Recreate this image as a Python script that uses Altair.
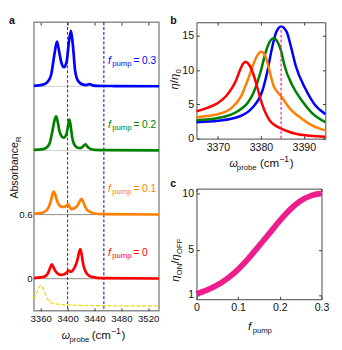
import altair as alt
import pandas as pd

FONT = "Liberation Sans, Arial, sans-serif"

# ---------------- shared series info ----------------
F_LABELS = ["0", "0.1", "0.2", "0.3"]
F_COLORS = ["#FF0000", "#FF8000", "#008000", "#0000FF"]
OFFSETS = [0.0, 0.6, 1.2, 1.8]

# ---------------- panel a : spectra (relative to their baseline) ----------------
A_RED_X = [3350, 3360, 3366.1, 3372.3, 3374.5, 3376.6, 3378.8, 3381.9, 3386, 3390, 3394, 3397.1, 3399.5,
           3401.9, 3404, 3406.6, 3410, 3412.9, 3415.5, 3417.3, 3418.9, 3420.5, 3423.6, 3428.3, 3433, 3437.9, 3450, 3536]
A_RED_Y = [0.006, 0.012, 0.02, 0.072, 0.11, 0.135, 0.11, 0.072, 0.045, 0.036, 0.04, 0.05, 0.065,
           0.075, 0.066, 0.07, 0.1, 0.14, 0.2, 0.25, 0.276, 0.24, 0.126, 0.05, 0.025, 0.015, 0.006, 0.002]

A_ORA_X = [3350, 3363.7, 3370.9, 3375.7, 3377.5, 3379.4, 3381.5, 3383.7, 3387.6, 3392.3, 3396, 3398.5, 3400.9,
           3403.3, 3405.7, 3410, 3413.5, 3416.1, 3418.5, 3420.9, 3423.3, 3425.7, 3429, 3432.9, 3440, 3455, 3536]
A_ORA_Y = [0.008, 0.02, 0.058, 0.14, 0.19, 0.216, 0.19, 0.14, 0.087, 0.072, 0.075, 0.085, 0.096,
           0.07, 0.051, 0.06, 0.075, 0.1, 0.13, 0.148, 0.12, 0.08, 0.045, 0.027, 0.01, 0.004, 0.001]

A_GRN_X = [3350, 3363.7, 3370, 3373.3, 3378.0, 3380.5, 3382.9, 3385.3, 3387.6, 3390.5, 3393.7, 3396.5, 3398.6,
           3401, 3402.9, 3404.8, 3406.7, 3409, 3411.4, 3415, 3418.6, 3422.5, 3426.6, 3430.4, 3434, 3440, 3460, 3536]
A_GRN_Y = [0.005, 0.013, 0.035, 0.067, 0.2, 0.28, 0.32, 0.27, 0.19, 0.14, 0.12, 0.13, 0.16,
           0.24, 0.29, 0.22, 0.13, 0.07, 0.043, 0.025, 0.022, 0.035, 0.058, 0.03, 0.015, 0.006, 0.003, 0.001]

A_BLU_X = [3350, 3363.7, 3370, 3373.3, 3376, 3378.0, 3380.9, 3384.3, 3387.6, 3390.9, 3394.7, 3398.6, 3401.9,
           3405.1, 3408.0, 3411.4, 3416.1, 3423.3, 3428, 3432.9, 3437, 3445, 3470, 3536]
A_BLU_Y = [0.004, 0.016, 0.04, 0.07, 0.12, 0.2, 0.32, 0.42, 0.32, 0.22, 0.18, 0.23, 0.41,
           0.52, 0.38, 0.14, 0.047, 0.016, 0.012, 0.022, 0.01, 0.005, 0.003, 0.001]

A_YEL_X = [3350, 3355.1, 3360, 3364.7, 3370.9, 3378, 3392.3, 3425.7, 3536]
A_YEL_Y = [-0.19, -0.114, -0.063, -0.114, -0.196, -0.229, -0.243, -0.25, -0.255]

A_REF_RED = [3400]
A_REF_BLUE = [3454]
A_X_TICKS = [3360, 3400, 3440, 3480, 3520]
A_Y_TICKS = [0, 0.6]
A_LABEL_X = 3460
A_LABEL_RISE = 0.235

# ---------------- panel b : eta / eta0 ----------------
B_RED_X = [3365, 3367.5, 3370, 3372, 3373.2, 3374.2, 3375, 3375.8, 3376.4, 3377, 3377.7, 3378.5, 3379.2,
           3380.3, 3381.2, 3382.1, 3383.4, 3384.7, 3386.5, 3388.1, 3391.5, 3395]
B_RED_Y = [4.0, 4.5, 5.2, 6.3, 7.35, 8.5, 9.8, 10.9, 11.25, 11.0, 10.3, 8.9, 7.4,
           5.0, 3.6, 2.6, 1.9, 1.46, 1.0, 0.7, 0.42, 0.28]
B_ORA_X = [3365, 3367.5, 3370, 3373.2, 3375.4, 3376.9, 3378.2, 3379.2, 3380.1, 3381, 3381.8, 3382.9, 3384.7,
           3386.6, 3389.6, 3392, 3395]
B_ORA_Y = [3.1, 3.3, 3.58, 4.5, 6.2, 8.5, 10.8, 12.2, 12.7, 12.1, 10.4, 7.8, 6.2,
           4.5, 2.87, 1.9, 1.2]
B_GRN_X = [3365, 3370, 3374.7, 3376.9, 3378.4, 3379.9, 3381.2, 3382.1, 3382.9, 3383.8, 3384.7, 3385.5,
           3387.3, 3389.6, 3391.8, 3395]
B_GRN_Y = [2.7, 3.0, 4.05, 5.2, 6.9, 9.7, 12.8, 14.2, 14.65, 14.2, 12.8, 10.65,
           7.8, 5.5, 3.8, 2.4]
B_BLU_X = [3365, 3370, 3375.4, 3378, 3380.3, 3381.5, 3382.5, 3383.6, 3384.7, 3386.0, 3387.0, 3388.1,
           3390.3, 3392.5, 3395]
B_BLU_Y = [2.4, 2.6, 3.34, 4.5, 6.9, 9.8, 13.0, 15.6, 16.4, 15.6, 13.4, 10.65,
           7.35, 5.0, 3.58]
B_MARK_X = [3384.7]
B_MARK_TOP = [16.4]
B_X_TICKS = [3370, 3380, 3390]
B_Y_TICKS = [0, 5, 10, 15]

# ---------------- panel c : eta_ON / eta_OFF ----------------
C_X = [0, 0.025, 0.048, 0.075, 0.1, 0.125, 0.148, 0.175, 0.2, 0.225, 0.248, 0.275, 0.3]
C_Y = [1.11, 1.43, 1.83, 2.48, 3.27, 4.24, 5.26, 6.45, 7.58, 8.58, 9.29, 9.8, 10.0]
C_X_TICKS = [0, 0.1, 0.2, 0.3]
C_Y_TICKS = [1, 5, 10]

# =====================================================================
ONE = pd.DataFrame({"k": [0]})
cscale = alt.Scale(domain=F_LABELS, range=F_COLORS)


def ax(orient, values, labels=True, size=10, pad=3, ticks=True, fmt="d"):
    kw = dict(orient=orient, title=None, domain=False, grid=False, labels=labels,
              ticks=ticks, values=values, labelFont=FONT, labelFontSize=size,
              labelColor="#111", labelPadding=pad, format=fmt,
              labelFlush=False, labelOverlap=False)
    if ticks:
        kw.update(tickSize=3, tickColor="#333", tickWidth=1, offset=-3)
    return alt.Axis(**kw)


def txt(s, x, y, size=12, style="normal", weight="normal", angle=0, align="left"):
    return alt.Chart(ONE).mark_text(
        text=s, fontSize=size, fontStyle=style, fontWeight=weight, angle=angle,
        align=align, baseline="alphabetic", color="#111", font=FONT
    ).encode(x=alt.value(x), y=alt.value(y))


# ---------------- panel a ----------------
rows = []
for f, off, xs, ys in zip(F_LABELS, OFFSETS, [A_RED_X, A_ORA_X, A_GRN_X, A_BLU_X],
                          [A_RED_Y, A_ORA_Y, A_GRN_Y, A_BLU_Y]):
    for i, (x, y) in enumerate(zip(xs, ys)):
        rows.append({"x": x, "y": y + off, "f": f, "i": i})
df_a = pd.DataFrame(rows)
df_yel = pd.DataFrame({"x": A_YEL_X, "y": A_YEL_Y, "i": range(len(A_YEL_X))})
df_base = pd.DataFrame({"y": OFFSETS, "tone": ["dark", "dark", "light", "light"]})
df_lab = pd.DataFrame({"f": F_LABELS, "x": [A_LABEL_X] * 4,
                       "y": [o + A_LABEL_RISE for o in OFFSETS],
                       "eq": ["= " + f for f in F_LABELS]})

xa = alt.Scale(domain=[3350, 3536], nice=False, zero=False)
ya = alt.Scale(domain=[-0.3, 2.4], nice=False, zero=False)

base_dark = alt.Chart(df_base).transform_filter("datum.tone == 'dark'").mark_rule(
    color="#8a8a8a", strokeWidth=1).encode(y=alt.Y("y:Q", scale=ya, axis=None))
base_light = alt.Chart(df_base).transform_filter("datum.tone == 'light'").mark_rule(
    color="#cfcfcf", strokeWidth=1).encode(y=alt.Y("y:Q", scale=ya, axis=None))
ref_red = alt.Chart(pd.DataFrame({"x": A_REF_RED})).mark_rule(
    color="#B01010", strokeWidth=1.1, strokeDash=[3, 2]).encode(
    x=alt.X("x:Q", scale=xa, axis=ax("top", A_X_TICKS, labels=False)))
ref_blue = alt.Chart(pd.DataFrame({"x": A_REF_BLUE})).mark_rule(
    color="#1010C8", strokeWidth=1.1, strokeDash=[3, 2]).encode(
    x=alt.X("x:Q", scale=xa, axis=None))
yel = alt.Chart(df_yel).mark_line(color="#F2D200", strokeWidth=1.2, strokeDash=[4, 2],
                                  interpolate="monotone").encode(
    x=alt.X("x:Q", scale=xa, axis=None), y=alt.Y("y:Q", scale=ya, axis=None), order="i:Q")
spec = alt.Chart(df_a).mark_line(strokeWidth=2.8, interpolate="monotone").encode(
    x=alt.X("x:Q", scale=xa, axis=ax("bottom", A_X_TICKS, size=10, pad=3)),
    y=alt.Y("y:Q", scale=ya, axis=ax("left", A_Y_TICKS, size=10, pad=2, ticks=False, fmt="~g")),
    color=alt.Color("f:N", scale=cscale, legend=None), order="i:Q")

lab_f = alt.Chart(df_lab).mark_text(fontSize=11, fontStyle="italic", align="left",
                                    baseline="middle", font=FONT, text="f").encode(
    x=alt.X("x:Q", scale=xa, axis=None), y=alt.Y("y:Q", scale=ya, axis=None),
    color=alt.Color("f:N", scale=cscale, legend=None))
lab_p = alt.Chart(df_lab).mark_text(fontSize=8, align="left", baseline="middle", font=FONT,
                                    text="pump", dx=4.5, dy=3).encode(
    x=alt.X("x:Q", scale=xa, axis=None), y=alt.Y("y:Q", scale=ya, axis=None),
    color=alt.Color("f:N", scale=cscale, legend=None))
lab_e = alt.Chart(df_lab).mark_text(fontSize=10.5, align="left", baseline="middle", font=FONT,
                                    dx=26.5).encode(
    x=alt.X("x:Q", scale=xa, axis=None), y=alt.Y("y:Q", scale=ya, axis=None),
    text="eq:N", color=alt.Color("f:N", scale=cscale, legend=None))

panel_a = alt.layer(
    base_dark, base_light, ref_red, ref_blue, yel, spec, lab_f, lab_p, lab_e,
    txt("a", -26, 2, size=11, weight="bold"),
    txt("Absorbance", -17, 154, size=11, angle=270, align="center"),
    txt("R", -14, 121.5, size=8, angle=270, align="center"),
    txt("ω", 29, 329, size=11, style="italic"),
    txt("probe", 37, 332, size=8),
    txt("(cm", 60, 329, size=12),
    txt("−1", 80, 324, size=9),
    txt(")", 91, 329, size=12),
).resolve_axis(x="independent", y="independent").properties(
    width=130, height=300, view=alt.ViewBackground(stroke="#8c8c8c", strokeWidth=1.5))

# ---------------- panel b ----------------
rows = []
for f, xs, ys in zip(["0.3", "0.2", "0.1", "0"], [B_BLU_X, B_GRN_X, B_ORA_X, B_RED_X],
                     [B_BLU_Y, B_GRN_Y, B_ORA_Y, B_RED_Y]):
    for i, (x, y) in enumerate(zip(xs, ys)):
        rows.append({"x": x, "y": y, "f": f, "i": i})
df_b = pd.DataFrame(rows)
xb = alt.Scale(domain=[3365, 3395], nice=False, zero=False)
yb = alt.Scale(domain=[0, 17], nice=False, zero=False)

b_lines = alt.Chart(df_b).mark_line(strokeWidth=2.6, interpolate="monotone").encode(
    x=alt.X("x:Q", scale=xb, axis=ax("bottom", B_X_TICKS, size=11, pad=3)),
    y=alt.Y("y:Q", scale=yb, axis=ax("left", B_Y_TICKS, size=11, pad=3)),
    color=alt.Color("f:N", scale=cscale, legend=None), order="i:Q")
b_mark = alt.Chart(pd.DataFrame({"x": B_MARK_X, "y0": [0], "y1": B_MARK_TOP})).mark_rule(
    color="#FF1493", strokeWidth=1.2, strokeDash=[3, 2]).encode(
    x=alt.X("x:Q", scale=xb, axis=ax("top", B_X_TICKS, labels=False)),
    y=alt.Y("y0:Q", scale=yb, axis=ax("right", B_Y_TICKS, labels=False)),
    y2="y1:Q")

panel_b = alt.layer(
    b_lines, b_mark,
    txt("b", -27.3, 2, size=11, weight="bold"),
    txt("η", -18.8, 70, size=12, style="italic", angle=270),
    txt("/", -18.8, 63.3, size=12, angle=270),
    txt("η", -18.8, 60, size=12, style="italic", angle=270),
    txt("0", -16, 53.3, size=8, angle=270),
    txt("ω", 34.4, 150.5, size=11, style="italic"),
    txt("probe", 42, 153.5, size=8),
    txt("(cm", 66, 150.5, size=12),
    txt("−1", 86, 145.5, size=9),
    txt(")", 97, 150.5, size=12),
).resolve_axis(x="independent", y="independent").properties(
    width=134, height=121, view=alt.ViewBackground(stroke="#444", strokeWidth=1))

# ---------------- panel c ----------------
df_c = pd.DataFrame({"x": C_X, "y": C_Y})
xc = alt.Scale(domain=[0, 0.3], nice=False, zero=False)
yc = alt.Scale(domain=[0.62, 10.42], nice=False, zero=False)

c_line = alt.Chart(df_c).mark_line(color="#EE1D8D", strokeWidth=6, interpolate="monotone").encode(
    x=alt.X("x:Q", scale=xc, axis=ax("bottom", C_X_TICKS, size=11, pad=3, fmt="~g")),
    y=alt.Y("y:Q", scale=yc, axis=ax("left", C_Y_TICKS, size=11, pad=3)))
c_axes = alt.Chart(df_c).mark_point(opacity=0).encode(
    x=alt.X("x:Q", scale=xc, axis=ax("top", C_X_TICKS, labels=False)),
    y=alt.Y("y:Q", scale=yc, axis=ax("right", C_Y_TICKS, labels=False)))

panel_c = alt.layer(
    c_line, c_axes,
    txt("c", -27.3, -1.6, size=11, weight="bold"),
    txt("η", -17.8, 96.7, size=12, style="italic", angle=270),
    txt("ON", -15, 90, size=8, angle=270),
    txt("/", -17.8, 78, size=12, angle=270),
    txt("η", -17.8, 74.7, size=12, style="italic", angle=270),
    txt("OFF", -15, 68, size=8, angle=270),
    txt("f", 53.7, 147.5, size=12, style="italic"),
    txt("pump", 58.4, 150, size=8),
).resolve_axis(x="independent", y="independent").properties(
    width=130, height=115, view=alt.ViewBackground(stroke="#444", strokeWidth=1))

right = alt.vconcat(panel_b, panel_c, spacing=52, bounds="flush")
chart = alt.hconcat(panel_a, right, spacing=39, bounds="flush").properties(padding=0)

chart.save("out.html", embed_options={"renderer": "svg", "actions": False})
